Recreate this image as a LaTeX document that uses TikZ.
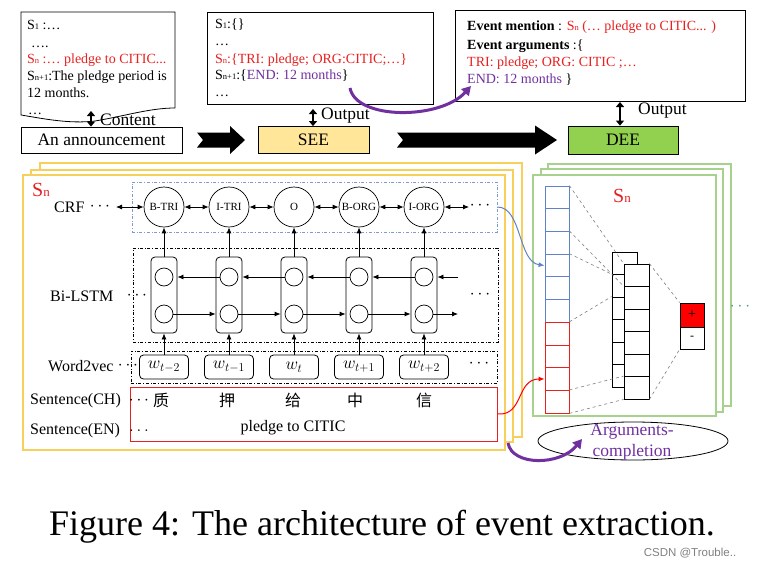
\documentclass[tikz,border=0pt]{standalone}
\usepackage{fontspec}
\setmainfont{Liberation Serif}
\newfontfamily\cjk{Noto Sans CJK SC}
\newfontfamily\wmfont{Liberation Sans}
\usetikzlibrary{arrows.meta,shapes.geometric}
\definecolor{myred}{RGB}{232,32,32}
\definecolor{mypurple}{RGB}{112,48,160}
\definecolor{panelyellow}{RGB}{246,208,90}
\definecolor{panelgreen}{RGB}{169,209,142}
\definecolor{seefill}{RGB}{255,230,153}
\definecolor{deefill}{RGB}{146,208,80}
\definecolor{colblue}{RGB}{95,130,200}
\definecolor{crfblue}{RGB}{125,155,205}
\definecolor{dotgreen}{RGB}{70,160,120}
\newcommand\sm[1]{{\fontsize{8.5}{9}\selectfont #1}}
\tikzset{
 txt/.style={inner sep=0pt, anchor=base west, font=\fontsize{14}{17}\selectfont},
 lbl/.style={inner sep=0pt, font=\fontsize{16}{18}\selectfont},
 big/.style={inner sep=0pt, font=\fontsize{17.5}{20}\selectfont},
 crfc/.style={circle, draw, line width=0.7pt, minimum size=40pt, inner sep=0pt, font=\fontsize{11}{12}\selectfont},
 lstmbox/.style={draw, line width=0.8pt, rounded corners=4pt, minimum width=26pt, minimum height=76pt, inner sep=0pt},
 cellc/.style={circle, draw, line width=0.7pt, minimum size=18pt, inner sep=0pt},
 wbox/.style={draw, line width=0.8pt, rounded corners=4pt, fill=white, minimum width=49pt, minimum height=24pt, inner sep=0pt, font=\fontsize{18}{20}\selectfont},
 arr/.style={-{Latex[length=6pt,width=5pt]}, line width=0.8pt},
 darr/.style={{Latex[length=6pt,width=5pt]}-{Latex[length=6pt,width=5pt]}, line width=0.8pt},
 vdarr/.style={{Triangle[length=5pt,width=8pt]}-{Triangle[length=5pt,width=8pt]}, line width=2.4pt},
 parr/.style={draw=mypurple, line width=3pt, -{Triangle[length=9pt,width=10pt]}},
 ypanel/.style={draw=panelyellow, line width=1.5pt},
 gpanel/.style={draw=panelgreen, line width=1.5pt},
 bcell/.style={draw=colblue, line width=0.8pt, minimum width=24pt, minimum height=22.7pt, inner sep=0pt},
 rcell/.style={draw=myred, line width=0.8pt, minimum width=24pt, minimum height=22.7pt, inner sep=0pt},
 kcell/.style={draw, line width=0.8pt, fill=white, minimum width=25pt, minimum height=22.5pt, inner sep=0pt},
 gline/.style={draw=gray, dashed, line width=0.6pt},
}
\begin{document}
\begin{tikzpicture}[x=1pt,y=-1pt]
\useasboundingbox (0,0) rectangle (765,570);

% ---------- top-left document ----------
\draw[line width=0.8pt] (21,12) -- (175,12) -- (175,108) .. controls (150,108) and (125,116) .. (95,121) .. controls (70,124) and (45,119) .. (21,115) -- cycle;
\node[txt] (d1) at (27,29) {S\sm{1} :\dots};
\node[txt] (d2) at (31,47) {\dots.};
\node[txt, text=myred] (d3) at (27,63) {S\sm{n} :\dots\ pledge to CITIC...};
\node[txt] (d4) at (27,80) {S\sm{n+1}:The pledge period is};
\node[txt] (d5) at (27,97) {12 months.};
\node[txt] (d6) at (28,114) {\dots};

% ---------- middle box ----------
\draw[line width=0.8pt] (207,12) rectangle (433,104);
\node[txt] (m1) at (215,28) {S\sm{1}:\{\}};
\node[txt] (m2) at (215,45) {\dots};
\node[txt, text=myred] (m3) at (215,63) {S\sm{n}:\{TRI: pledge; ORG:CITIC;\dots\}};
\node[txt] (m4) at (215,79) {S\sm{n+1}:\{\textcolor{mypurple}{END: 12 months}\}};
\node[txt] (m5) at (215,96) {\dots};

% ---------- right box ----------
\draw[line width=0.8pt] (455,10) rectangle (745,101);
\node[txt] (r1) at (467,30) {\textbf{Event mention} : \textcolor{myred}{S\sm{n} (\dots\ pledge to CITIC... )}};
\node[txt] (r2) at (467,49) {\textbf{Event arguments} :\{};
\node[txt, text=myred] (r3) at (467,66) {TRI: pledge; ORG: CITIC ;\dots};
\node[txt] (r4) at (467,83) {\textcolor{mypurple}{END: 12 months} \}};

% ---------- pipeline row ----------
\node[draw, line width=0.8pt, minimum width=161pt, minimum height=26pt, big] (ann) at (101.5,140) {An announcement};
\node[draw, line width=0.8pt, fill=seefill, minimum width=111pt, minimum height=27pt, big] (see) at (313.5,140) {SEE};
\node[draw, line width=0.8pt, fill=deefill, minimum width=110pt, minimum height=28pt, big] (dee) at (623,140) {DEE};

\fill (197,132.5) -- (230,132.5) -- (230,126) -- (245,140) -- (230,154) -- (230,147.5) -- (197,147.5) -- (203,140) -- cycle;
\fill (397,132.5) -- (535,132.5) -- (535,125.5) -- (557,140) -- (535,154.5) -- (535,147.5) -- (397,147.5) -- (403,140) -- cycle;

\coordinate (ca) at (91,111);
\draw[vdarr] (ca) -- (ca |- ann.north);
\node[big, anchor=west] (content) at (100,120) {Content};
\coordinate (oa) at (313,109);
\draw[vdarr] (oa) -- (oa |- see.north);
\node[big, anchor=west] (out1) at (321,116) {Output};
\coordinate (ob) at (620,102);
\draw[vdarr] (ob) -- (ob |- dee.north);
\node[big, anchor=west] (out2) at (638,111) {Output};

% purple top arrow
\coordinate (pa1) at (350,88);
\coordinate (pa2) at (471,86);
\draw[parr] (pa1) .. controls (356,120) and (440,120) .. (pa2);

% ---------- yellow panels ----------
\draw[ypanel] (40,163) rectangle (522,437);
\draw[ypanel, fill=white] (31,170) rectangle (513,442);
\node[ypanel, fill=white, minimum width=482pt, minimum height=275pt, inner sep=0pt] (ypan) at (264,312.5) {};
\node[inner sep=0pt, text=myred] (sn1) at (41,190) {\fontsize{20}{22}\selectfont S\fontsize{13}{14}\selectfont n};

\node[draw=crfblue, dash dot, line width=0.8pt, minimum width=365pt, minimum height=50pt, inner sep=0pt] (crfbox) at (314.5,207) {};
\node[draw, dash dot, line width=0.7pt, minimum width=365pt, minimum height=94pt, inner sep=0pt] (lstmarea) at (315.5,295) {};
\node[draw, dash dot, line width=0.7pt, minimum width=366pt, minimum height=32pt, inner sep=0pt] (wvarea) at (314,367) {};
\node[draw=myred, line width=1pt, minimum width=367pt, minimum height=54pt, inner sep=0pt] (sent) at (313.5,414) {};

% left labels
\node[lbl, anchor=west] (crflbl) at (54,207) {CRF};
\node[lbl] (crfdots) at (100,207) {$\cdots$};
\node[lbl, anchor=west] (lstmlbl) at (50,296) {Bi-LSTM};
\node[lbl] (lstmdots) at (137,296) {$\cdots$};
\node[lbl, anchor=west] (wvlbl) at (48,366) {Word2vec};
\node[lbl] (wvdots) at (128,366) {$\cdots$};
\node[lbl, anchor=west] (chlbl) at (30,401) {Sentence(CH)};
\node[lbl] (chdots) at (139,401) {$\cdots$};
\node[lbl, anchor=west] (enlbl) at (30,431) {Sentence(EN)};
\node[lbl] (endots) at (139,431) {$\ldots$};

% columns
\foreach \i/\lab/\w in {0/B-TRI/w_{t-2},1/I-TRI/w_{t-1},2/O/w_{t},3/B-ORG/w_{t+1},4/I-ORG/w_{t+2}}{
  \node[crfc] (c\i) at ({164+65*\i},207) {\lab};
  \node[lstmbox] (l\i) at ({164+65*\i},295) {};
  \node[cellc] (u\i) at ({164+65*\i},277) {};
  \node[cellc] (d\i) at ({164+65*\i},314) {};
  \node[wbox] (w\i) at ({164+65*\i},367) {$\w$};
  \draw[arr] (l\i) -- (c\i);
  \draw[arr] (w\i) -- (l\i);
}
\foreach \i [evaluate=\i as \j using int(\i+1)] in {0,1,2,3}{
  \draw[darr] (c\i) -- (c\j);
  \draw[arr] (u\j.west) -- (l\i.east |- u\i);
  \draw[arr] (d\i.east) -- (l\j.west |- d\j);
}
\coordinate (crfL) at (116,207);
\coordinate (crfR) at (469,207);
\draw[darr] (crfL) -- (c0);
\draw[darr] (c4) -- (crfR);
\node[lbl] (crfrdots) at (480,206) {$\cdots$};
\coordinate (lstmRt) at (458,277);
\coordinate (lstmRb) at (458,314);
\draw[arr] (lstmRt) -- (l4.east |- u4);
\draw[arr] (d4.east) -- (lstmRb);
\node[lbl] (lstmrdots) at (480,295) {$\cdots$};
\node[lbl] (wvrdots) at (479,364) {$\cdots$};

% sentence text
\node[lbl] (ch1) at (161,400) {\cjk 质};
\node[lbl] (ch2) at (227,400) {\cjk 押};
\node[lbl] (ch3) at (293,400) {\cjk 给};
\node[lbl] (ch4) at (355,400) {\cjk 中};
\node[lbl] (ch5) at (424,400) {\cjk 信};
\node[lbl] (en) at (293,428) {pledge to CITIC};

% ---------- green panels ----------
\draw[gpanel] (548,164) rectangle (731,406);
\draw[gpanel, fill=white] (541,169) rectangle (723,412);
\node[gpanel, fill=white, minimum width=183pt, minimum height=241pt, inner sep=0pt] (gpan) at (624.5,295.5) {};
\node[inner sep=0pt, text=myred] (sn2) at (622,196) {\fontsize{20}{22}\selectfont S\fontsize{13}{14}\selectfont n};
\node[lbl, text=dotgreen] (gdots) at (740,307) {$\cdots$};

\foreach \k in {0,...,5}{
  \node[bcell] (b\k) at (557,{197.35+22.7*\k}) {};
}
\foreach \k in {6,...,9}{
  \node[rcell] (b\k) at (557,{197.35+22.7*\k}) {};
}
\foreach \k in {0,...,5}{
  \node[kcell] (k\k) at (624.5,{263.25+22.5*\k}) {};
}
\foreach \k in {0,...,5}{
  \node[kcell] (f\k) at (636.5,{275.25+22.5*\k}) {};
}
\node[draw, line width=0.8pt, fill=red, minimum width=24pt, minimum height=24pt, inner sep=0pt, font=\fontsize{14}{14}\selectfont] (plus) at (692,315) {+};
\node[draw, line width=0.8pt, fill=white, minimum width=24pt, minimum height=22pt, inner sep=0pt, font=\fontsize{12}{12}\selectfont] (minus) at (692,338) {-};

\draw[gline] (b0.north east) -- (f0.north west);
\draw[gline] (b2.north east) -- (f1.north west);
\draw[gline] (b3.north east) -- (k1.north west);
\draw[gline] (b6.north east) -- (k2.north west);
\draw[gline] (b9.north east) -- (f5.north west);
\draw[gline] (b9.south east) -- (f5.south west);
\draw[gline] (f0.north east) -- (plus.north west);
\draw[gline] (f5.south east) -- (minus.south west);

% connectors to DEE
\draw[draw=colblue, line width=1pt, -{Latex[length=6pt,width=5pt]}] (crfbox.east) .. controls (522,207) and (518,262) .. (b3.west);
\draw[draw=red, line width=1pt, -{Latex[length=6pt,width=5pt]}] (sent.east) .. controls (524,416) and (516,379) .. (b8.west);

% arguments completion
\node[draw, ellipse, line width=0.8pt, minimum width=190pt, minimum height=38pt, inner sep=0pt] (argc) at (633,441) {};
\node[big, text=mypurple, align=center, font=\fontsize{17.5}{21}\selectfont] (argt) at (632,442) {Arguments-\\completion};
\coordinate (pb1) at (508,443);
\coordinate (pb2) at (582,439);
\draw[parr] (pb1) .. controls (512,466) and (560,466) .. (pb2);

% caption
\node[inner sep=0pt, font=\fontsize{36}{40}\selectfont] (cap) at (382,527) {Figure 4: The architecture of event extraction.};
\node[inner sep=0pt, text=gray, font=\wmfont\fontsize{11.5}{12}\selectfont] (wm) at (690,553) {CSDN @Trouble..};
\end{tikzpicture}
\end{document}
